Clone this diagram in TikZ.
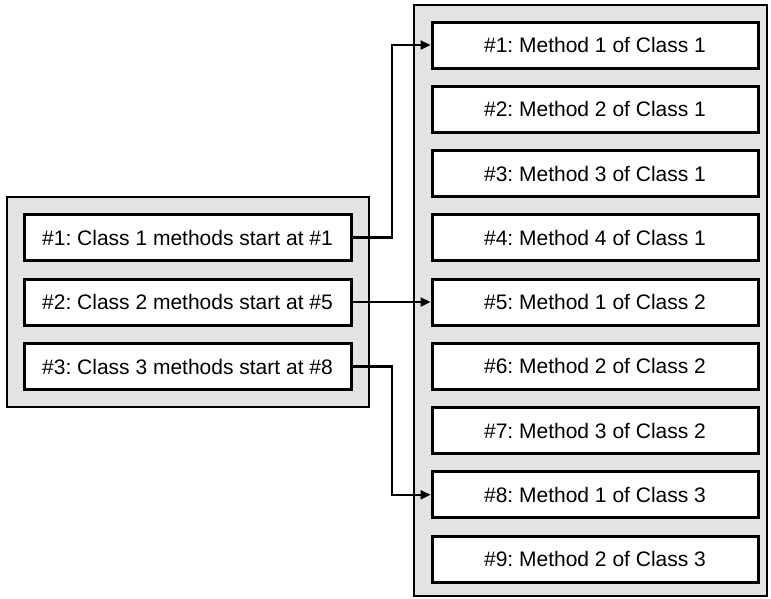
\documentclass[tikz,border=0pt]{standalone}
\usepackage{fontspec}
\setmainfont{Liberation Sans}
\usetikzlibrary{arrows.meta}
\frenchspacing
\tikzset{
  panel/.style={draw=black, line width=2.4pt, fill=black!11},
  entry/.style={draw=black, line width=3pt, fill=white, inner sep=0pt,
    minimum height=46pt, font=\fontsize{21}{25}\selectfont},
  leftentry/.style={entry, minimum width=327pt},
  rightentry/.style={entry, minimum width=326pt},
  link/.style={line width=2.3pt, -{Triangle[length=10pt,width=9pt]}},
}
\begin{document}
\begin{tikzpicture}[x=1pt, y=-1pt]
\useasboundingbox (0,0) rectangle (771,598);

% the two shaded tables
\path[panel] (7,197) rectangle (369,407);
\path[panel] (414,5) rectangle (767,596);

% class table
\node[leftentry] (c1) at (187.5,237.5) {\#1: Class 1 methods start at \#1};
\node[leftentry] (c2) at (187.5,302)   {\#2: Class 2 methods start at \#5};
\node[leftentry] (c3) at (187.5,366.5) {\#3: Class 3 methods start at \#8};

% method table
\foreach \k/\m/\c in {1/1/1, 2/2/1, 3/3/1, 4/4/1, 5/1/2, 6/2/2, 7/3/2, 8/1/3, 9/2/3} {
  \node[rightentry] (m\k) at (595,{45+64.25*(\k-1)}) {\#\k: Method \m\ of Class \c};
}

% pointers from classes to their first methods
\draw[link] (c1.east) -- (392,237.5) |- (m1.west);
\draw[link] (c2.east) -- (m5.west);
\draw[link] (c3.east) -- (392,366.5) |- (m8.west);
\end{tikzpicture}
\end{document}
